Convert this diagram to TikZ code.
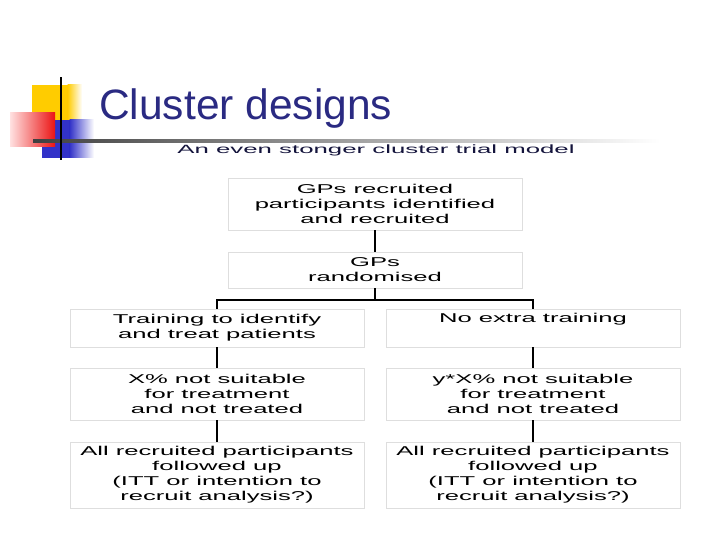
\documentclass[tikz,border=0pt]{standalone}
\usepackage{fontspec}
\setmainfont{Liberation Sans}
\newfontfamily\wide[FakeStretch=2.0]{Liberation Sans}
\newfontfamily\widesub[FakeStretch=2.15]{Liberation Sans}
\definecolor{titlenavy}{RGB}{42,42,130}
\definecolor{subnavy}{RGB}{20,20,60}
\definecolor{boxgray}{RGB}{222,222,222}
\definecolor{decoyellow}{RGB}{255,204,0}
\definecolor{decored}{RGB}{235,20,20}
\definecolor{decopink}{RGB}{255,225,225}
\definecolor{decoblue}{RGB}{50,50,200}
\begin{document}
\begin{tikzpicture}[x=1pt,y=-1pt,
  flowbox/.style={draw=boxgray, line width=0.8pt, rectangle, minimum width=294pt,
    inner sep=0pt, align=center, font=\wide\fontsize{12.8}{15}\selectfont},
  link/.style={draw=black, line width=1.5pt}]
\useasboundingbox (0,0) rectangle (720,540);
% decoration
\fill[decoyellow] (32,85) rectangle (68,120);
\shade[left color=decoyellow, right color=white] (67.5,85) rectangle (82,120);
\fill[decoblue] (42,120) rectangle (70,158);
\shade[left color=decoblue, right color=white] (69.5,120) rectangle (94,158);
\shade[left color=decopink, right color=decored] (10,113) rectangle (55,147);
\shade[left color=black!75, right color=white] (33,139.5) rectangle (660,142.5);
\fill[black] (60,77) rectangle (62.2,160);
% title
\node[anchor=base west, inner sep=0pt, text=titlenavy, font=\fontsize{42.5}{46}\selectfont] (title) at (99,120) {Cluster designs};
\node[anchor=base, inner sep=0pt, text=subnavy, font=\widesub\fontsize{12}{14}\selectfont] (sub) at (376,154) {An even stonger cluster trial model};
% boxes
\node[flowbox, minimum height=52pt] (b1) at (375,204) {GPs recruited\\participants identified\\and recruited};
\node[flowbox, minimum height=36pt] (b2) at (375,270) {GPs\\randomised};
\node[flowbox, minimum height=38pt] (b3) at (217,328) {Training to identify\\and treat patients};
\node[flowbox, minimum height=38pt] (b4) at (533,328) {No extra training\\\strut};
\node[flowbox, minimum height=52pt] (b5) at (217,394) {X\% not suitable\\for treatment\\and not treated};
\node[flowbox, minimum height=52pt] (b6) at (533,394) {y*X\% not suitable\\for treatment\\and not treated};
\node[flowbox, minimum height=66pt] (b7) at (217,475) {All recruited participants\\followed up\\(ITT or intention to\\recruit analysis?)};
\node[flowbox, minimum height=66pt] (b8) at (533,475) {All recruited participants\\followed up\\(ITT or intention to\\recruit analysis?)};
% connectors
\coordinate (j) at (375,300);
\draw[link] (b1.south) -- (b2.north);
\draw[link] (b2.south) -- (j);
\draw[link] (b3.north) |- (j) -| (b4.north);
\draw[link] (b3.south) -- (b5.north);
\draw[link] (b4.south) -- (b6.north);
\draw[link] (b5.south) -- (b7.north);
\draw[link] (b6.south) -- (b8.north);
\end{tikzpicture}
\end{document}
